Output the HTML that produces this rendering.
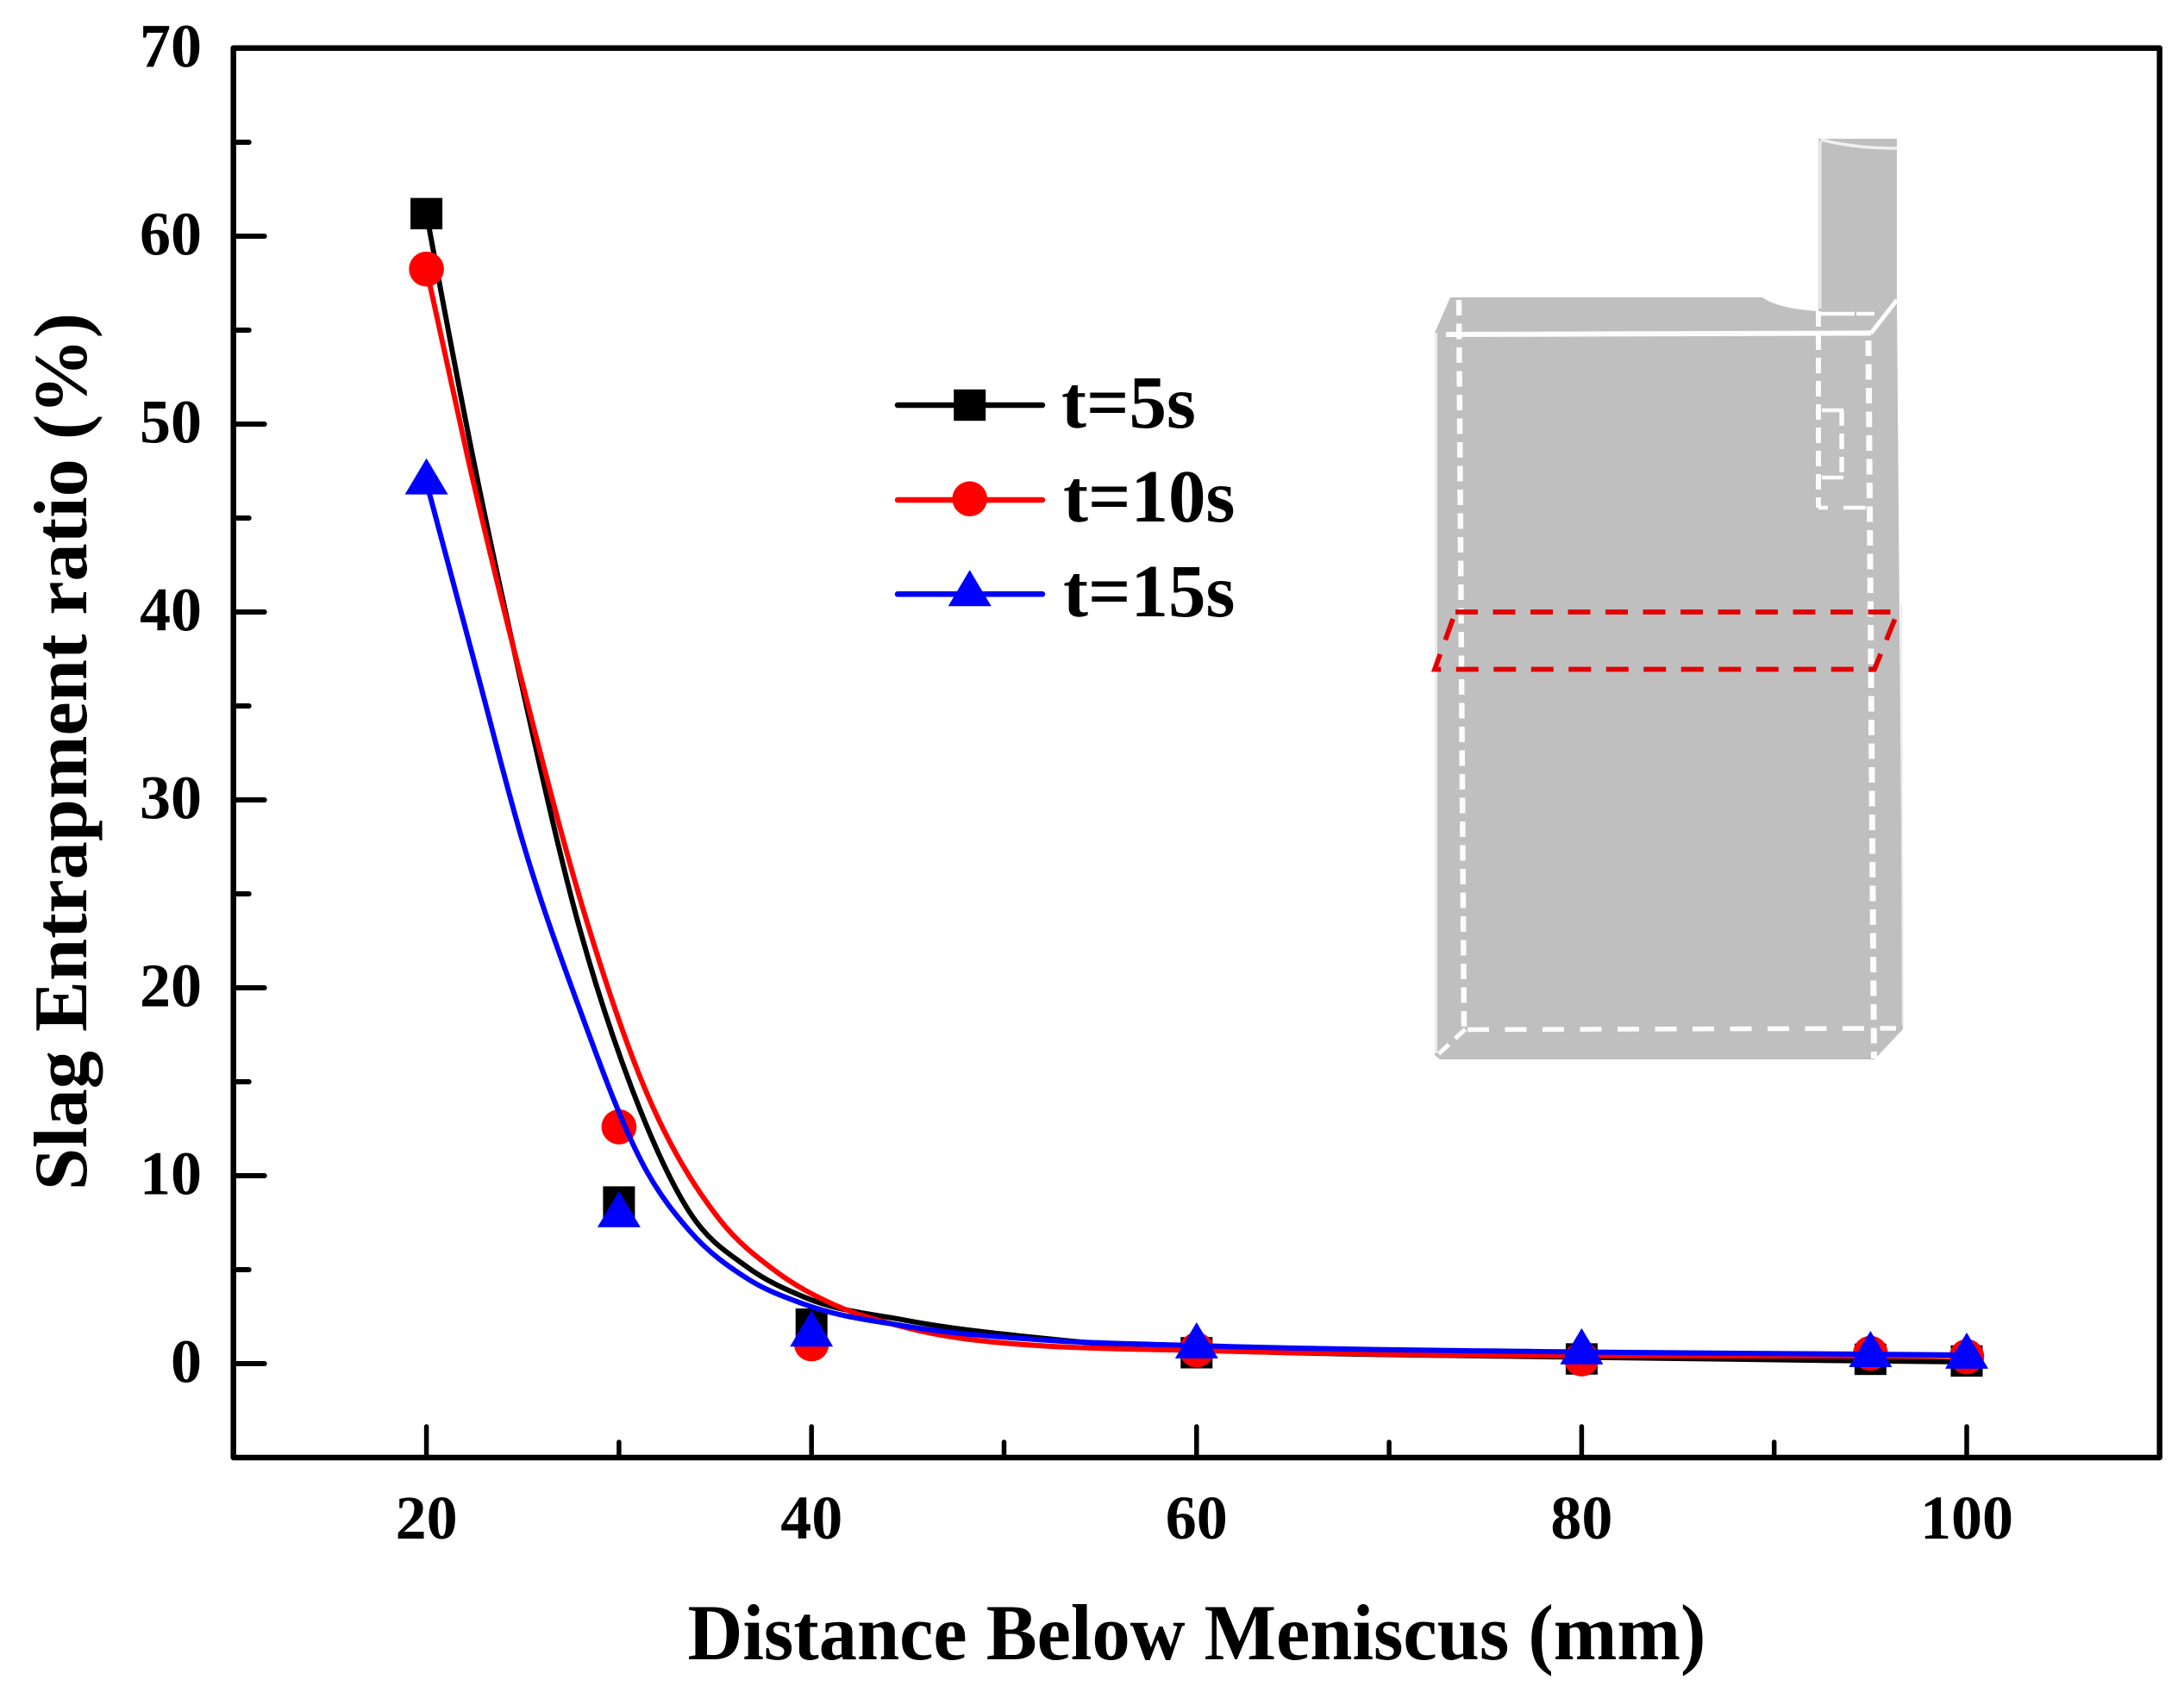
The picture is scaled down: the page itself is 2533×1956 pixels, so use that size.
<!DOCTYPE html>
<html lang="en">
<head>
<meta charset="utf-8">
<title>Slag Entrapment ratio vs Distance Below Meniscus</title>
<style>
html,body{margin:0;padding:0;background:#fff;width:2533px;height:1956px;overflow:hidden}
svg{display:block;font-family:"Liberation Serif",serif;font-weight:bold;fill:#000}
</style>
</head>
<body>
<svg id="chart" xmlns="http://www.w3.org/2000/svg" width="2533" height="1956" viewBox="0 0 2533 1956">
  <rect x="0" y="0" width="2533" height="1956" fill="#fff"/>

  <g id="inset">
    <path fill="#bfbfbf" d="M1664,386 L1682,345 L2044,345 Q2062,358 2109,361 L2109,161 L2200,161 L2200,348 L2207,1194 L2174,1229 L1670,1229 L1664,1224 Z"/>
    <g fill="none" stroke="#ececec" stroke-width="3">
      <path d="M1665.5,386 L1665.5,1222"/>
      <path d="M2205,700 L2207,1190" stroke-width="2"/>
      <path d="M2111,163 L2111,358"/>
    </g>
    <path fill="none" stroke="#f0f0f0" stroke-width="3.5" d="M2112,162 Q2150,172 2200,172"/>
    <g fill="none" stroke="#fcfcfc">
      <path stroke-width="6" d="M1677,388 L2170,386.5"/>
      <path stroke-width="5" d="M2170,386.5 L2200,348"/>
      <path stroke-width="6.5" stroke-dasharray="18 9.5" d="M1692,348 L1698,1194"/>
      <path stroke-width="7" stroke-dasharray="18 9.5" d="M2167,395 L2173.5,1228"/>
      <path stroke-width="5.5" stroke-dasharray="25 18.5" d="M1702,1194.5 L2199,1193"/>
      <path stroke-width="5" stroke-dasharray="16 10" d="M1699.5,1194 L1666,1225"/>
      <path stroke-width="6" stroke-dasharray="18 9" d="M2109,361 L2109,589"/>
      <path stroke-width="4.5" d="M2109,364 L2174,364" stroke-dasharray="42 2 21"/>
      <path stroke-width="4.5" d="M2113,476 L2138,476"/>
      <path stroke-width="5.5" stroke-dasharray="18 9" d="M2136,476 L2136,555"/>
      <path stroke-width="4.5" d="M2113,554 L2138,554"/>
      <path stroke-width="4.5" d="M2109,589 L2120,589 M2138,589 L2164,589"/>
    </g>
    <path fill="none" stroke="#e30000" stroke-width="5.8" stroke-dasharray="26 17.5" d="M1688,710 L2201,710 L2174,776.5 L1664,776.5 Z"/>
  </g>

  <g id="axes"></g>
  <g id="series"></g>

  <g id="legend"></g>

  <text x="1388" y="1925" text-anchor="middle" font-size="92" textLength="1181" lengthAdjust="spacingAndGlyphs">Distance Below Meniscus (mm)</text>
  <text transform="translate(100,872) rotate(-90)" text-anchor="middle" font-size="88" textLength="1018" lengthAdjust="spacingAndGlyphs">Slag Entrapment ratio (%)</text>
</svg>

<script>
// ---- Data ----
const xMajorTicks = [20, 40, 60, 80, 100];
const xMinorTicks = [30, 50, 70, 90];
const yMajorTicks = [0, 10, 20, 30, 40, 50, 60, 70];
const yMinorTicks = [5, 15, 25, 35, 45, 55, 65];

const distances = [20, 30, 40, 60, 80, 95, 100];
const points5s  = [61.2, 8.6, 2.1, 0.58, 0.25, 0.23, 0.14];
const points10s = [58.25, 12.6, 1.05, 0.73, 0.25, 0.55, 0.37];
const points15s = [46.9, 7.9, 1.55, 0.92, 0.6, 0.46, 0.37];

const curve5sX  = [20, 22.44, 24.8, 28, 30.62, 33.68, 36.66, 39.65, 44.87, 52.3, 60, 80, 100];
const curve5sY  = [61.2, 48.1, 36.8, 23, 14.77, 8.04, 5.14, 3.53, 2.31, 1.32, 0.73, 0.34, 0.09];
const curve10sX = [20, 22.17, 24.84, 28.48, 31.29, 35.17, 38.15, 41.14, 44.87, 52.3, 60, 80, 100];
const curve10sY = [58.25, 48.1, 36.8, 23.03, 14.77, 7.74, 4.91, 3.15, 1.93, 0.93, 0.7, 0.42, 0.4];
const curve15sX = [20, 22.63, 25.05, 27.78, 31.47, 33.68, 36.66, 39.65, 44.87, 52.3, 60, 80, 95, 100];
const curve15sY = [46.9, 36.8, 27.6, 19.36, 10.18, 7.05, 4.53, 3.15, 2, 1.24, 0.96, 0.62, 0.5, 0.46];

const legendLabels = ['t=5s', 't=10s', 't=15s'];

// ---- Axis functions ----
const X = v => 494.6 + (v - 20) * 22.33;
const Y = v => 56 + (70 - v) * 21.8;

const NS = 'http://www.w3.org/2000/svg';
function mk(tag, attrs, parent) {
  const n = document.createElementNS(NS, tag);
  for (const k in attrs) n.setAttribute(k, attrs[k]);
  parent.appendChild(n);
  return n;
}
// Monotone cubic interpolation through the read-off curve points
function splinePath(xs, ys) {
  const px = xs.map(X), py = ys.map(Y), n = px.length;
  const h = [], s = [], t = new Array(n);
  for (let i = 0; i < n - 1; i++) {
    h[i] = px[i + 1] - px[i];
    s[i] = (py[i + 1] - py[i]) / h[i];
  }
  for (let i = 1; i < n - 1; i++) {
    const p = (s[i - 1] * h[i] + s[i] * h[i - 1]) / (h[i - 1] + h[i]);
    t[i] = s[i - 1] * s[i] <= 0 ? 0 :
      (Math.sign(s[i - 1]) + Math.sign(s[i])) * Math.min(Math.abs(s[i - 1]), Math.abs(s[i]), 0.5 * Math.abs(p));
  }
  t[0] = (3 * s[0] - t[1]) / 2;
  t[n - 1] = (3 * s[n - 2] - t[n - 2]) / 2;
  let d = 'M' + px[0].toFixed(2) + ',' + py[0].toFixed(2);
  for (let i = 0; i < n - 1; i++) {
    const dx = h[i] / 3;
    d += ' C' + (px[i] + dx).toFixed(2) + ',' + (py[i] + dx * t[i]).toFixed(2) + ' ' +
      (px[i + 1] - dx).toFixed(2) + ',' + (py[i + 1] - dx * t[i + 1]).toFixed(2) + ' ' +
      px[i + 1].toFixed(2) + ',' + py[i + 1].toFixed(2);
  }
  return d;
}

// ---- Axes ----
const axes = document.getElementById('axes');
const LEFT = 270.7, RIGHT = 2504.7, TOP = 55.7, BOTTOM = 1691;

const frame = mk('rect', {x: LEFT, y: TOP, width: RIGHT - LEFT, height: BOTTOM - TOP, fill: 'none', stroke: '#000', 'stroke-width': 6.5, 'stroke-linejoin': 'round'}, axes);



xMajorTicks.forEach(v => {
  const t = mk('line', {x1: X(v), x2: X(v), y1: BOTTOM, y2: BOTTOM - 36, stroke: '#000', 'stroke-width': 5.5, 'stroke-linecap': 'round'}, axes);
  
  
  const l = mk('text', {x: X(v), y: 1785, 'text-anchor': 'middle', 'font-size': 72}, axes);
  l.textContent = v;
  
  
});
xMinorTicks.forEach(v => {
  const t = mk('line', {x1: X(v), x2: X(v), y1: BOTTOM, y2: BOTTOM - 18, stroke: '#000', 'stroke-width': 5.5, 'stroke-linecap': 'round'}, axes);
  
  
});
yMajorTicks.forEach(v => {
  const t = mk('line', {x1: LEFT, x2: LEFT + 36, y1: Y(v), y2: Y(v), stroke: '#000', 'stroke-width': 6, 'stroke-linecap': 'round'}, axes);
  
  
  const l = mk('text', {x: 234, y: Y(v) + 21.5, 'text-anchor': 'end', 'font-size': 72}, axes);
  l.textContent = v;
  
  
});
yMinorTicks.forEach(v => {
  const t = mk('line', {x1: LEFT, x2: LEFT + 18, y1: Y(v), y2: Y(v), stroke: '#000', 'stroke-width': 6, 'stroke-linecap': 'round'}, axes);
  
  
});

// ---- Marker drawing ----
function square(parent, cx, cy) {
  const m = mk('rect', {x: cx - 18.5, y: cy - 18.2, width: 37, height: 36.4, fill: '#000'}, parent);
  
  
}
function circle(parent, cx, cy) {
  const m = mk('circle', {cx: cx, cy: cy, r: 20.3, fill: '#f00'}, parent);
  
  
}
function triangle(parent, cx, cy) {
  const m = mk('polygon', {points: cx + ',' + (cy - 28) + ' ' + (cx + 25) + ',' + (cy + 14) + ' ' + (cx - 25) + ',' + (cy + 14), fill: '#00f'}, parent);
  
  
}

// ---- Series ----
const seriesRoot = document.getElementById('series');

const g5 = mk('g', {}, seriesRoot);


const line5 = mk('path', {d: splinePath(curve5sX, curve5sY), fill: 'none', stroke: '#000', 'stroke-width': 6}, g5);


distances.forEach((d, i) => square(g5, X(d), Y(points5s[i])));

const g10 = mk('g', {}, seriesRoot);


const line10 = mk('path', {d: splinePath(curve10sX, curve10sY), fill: 'none', stroke: '#f00', 'stroke-width': 6}, g10);


distances.forEach((d, i) => circle(g10, X(d), Y(points10s[i])));

const g15 = mk('g', {}, seriesRoot);


const line15 = mk('path', {d: splinePath(curve15sX, curve15sY), fill: 'none', stroke: '#00f', 'stroke-width': 6}, g15);


distances.forEach((d, i) => triangle(g15, X(d), Y(points15s[i])));

// ---- Legend ----
const legend = document.getElementById('legend');
const colors = ['#000', '#f00', '#00f'];
const rowY = [470, 580, 689.3];
const textX = [1231, 1233, 1233];
const textY = [496, 605, 715];
const markerFns = [square, circle, triangle];
legendLabels.forEach((label, i) => {
  const row = mk('g', {}, legend);
  
  
  const ln = mk('line', {x1: 1041, x2: 1209, y1: rowY[i], y2: rowY[i], stroke: colors[i], 'stroke-width': 6.5, 'stroke-linecap': 'round'}, row);
  
  
  markerFns[i](row, 1124.7, rowY[i] - (i === 1 ? 1.3 : 0));
  const tx = mk('text', {x: textX[i], y: textY[i], 'font-size': 87}, row);
  tx.textContent = label;
  
  
});
</script>
</body>
</html>
